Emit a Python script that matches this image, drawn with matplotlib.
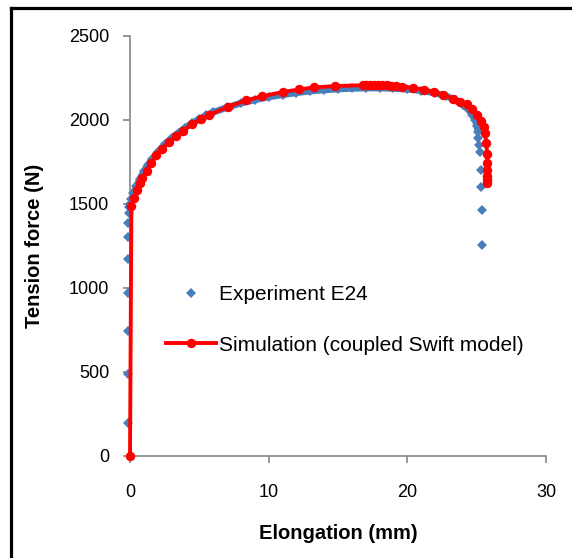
import matplotlib
matplotlib.use("Agg")
import matplotlib.pyplot as plt
from matplotlib.lines import Line2D

plt.rcParams['font.family'] = ['Liberation Sans', 'DejaVu Sans']

# Experiment E24 - elastic part (sparse points)
exp_el_x = [-0.12, -0.13, -0.12, -0.12, -0.12, -0.12, -0.12, -0.10, -0.08]
exp_el_y = [198, 488, 746, 972, 1171, 1302, 1389, 1444, 1484]
# Experiment E24 - plastic part (dense band)
exp_pl_x = [0.0, 0.1, 0.25, 0.45, 0.7, 1.0, 1.3, 1.6, 2.0, 2.5, 3.0, 3.5, 4.0,
            4.5, 5.0, 5.5, 6.0, 7.0, 8.0, 9.0, 10.0, 11.0, 12.0, 13.0, 14.0,
            15.0, 16.0, 17.0, 18.0, 19.0, 20.0, 21.0, 22.0, 22.8, 23.5, 24.0,
            24.4, 24.7, 24.9, 25.0, 25.1]
exp_pl_y = [1500, 1530, 1565, 1605, 1650, 1695, 1735, 1765, 1810, 1855, 1893,
            1925, 1955, 1982, 2006, 2027, 2046, 2075, 2100, 2120, 2137, 2150,
            2162, 2172, 2179, 2184, 2188, 2190, 2190, 2188, 2183, 2175, 2160,
            2143, 2118, 2092, 2063, 2030, 2000, 1965, 1930]
# Experiment E24 - fracture drop (sparse points)
exp_dr_x = [25.12, 25.2, 25.24, 25.28, 25.32, 25.4, 25.42]
exp_dr_y = [1891, 1851, 1811, 1702, 1603, 1464, 1256]

# Simulation (coupled Swift model)
sim_x = [0.0, 0.1, 0.3, 0.5, 0.7, 0.9, 1.2, 1.5, 1.9, 2.3, 2.8, 3.3, 3.8, 4.5,
         5.1, 5.7, 7.1, 8.4, 9.5, 11.0, 12.2, 13.3, 14.8, 16.8, 17.0, 17.3,
         17.6, 17.9, 18.2, 18.5, 18.8, 19.2, 19.6, 20.4, 21.2, 21.9, 22.6, 23.3,
         23.8, 24.3, 24.7, 25.0, 25.3, 25.5, 25.6, 25.7, 25.75, 25.78, 25.78,
         25.77, 25.75, 25.72]
sim_y = [0, 1490, 1535, 1585, 1622, 1655, 1697, 1742, 1790, 1830, 1868, 1905,
         1937, 1975, 2005, 2030, 2080, 2117, 2141, 2166, 2182, 2194, 2202,
         2207, 2208, 2208, 2208, 2208, 2207, 2206, 2205, 2203, 2199, 2191,
         2181, 2167, 2149, 2127, 2110, 2093, 2063, 2030, 1992, 1960, 1920,
         1861, 1800, 1742, 1700, 1665, 1640, 1623]

xticks = [0, 10, 20, 30]
yticks = [0, 500, 1000, 1500, 2000, 2500]

blue = '#4A7EBB'
red = '#FF0000'
gray = '#868686'

fig = plt.figure(figsize=(5.72, 5.58), dpi=100)
ax = fig.add_axes([0.2273, 0.1828, 0.7272, 0.7527])

# experiment band (dense measured points)
ax.plot(exp_pl_x, exp_pl_y, color=blue, lw=4.8, solid_capstyle='round',
        solid_joinstyle='round', zorder=2)
all_x = exp_el_x + exp_pl_x + exp_dr_x
all_y = exp_el_y + exp_pl_y + exp_dr_y
ax.plot(all_x, all_y, linestyle='none', marker='D', markersize=4.6,
        color=blue, markeredgewidth=0, clip_on=False, zorder=3)

ax.plot(sim_x, sim_y, color=red, lw=2.8, marker='o', markersize=6.8,
        markeredgewidth=0, clip_on=False, zorder=4)

ax.set_xlim(0, 30)
ax.set_ylim(0, 2500)
ax.set_xticks(xticks)
ax.set_yticks(yticks)
for s in ['top', 'right']:
    ax.spines[s].set_visible(False)
for s in ['left', 'bottom']:
    ax.spines[s].set_color(gray)
    ax.spines[s].set_linewidth(1.2)
ax.tick_params(direction='out', length=5, width=1.2, color=gray,
               labelsize=13, labelcolor='black')
ax.tick_params(axis='x', pad=15)
ax.tick_params(axis='y', pad=10)
ax.set_xlabel('Elongation (mm)', fontsize=14.5, fontweight='bold', labelpad=17)
ax.set_ylabel('Tension force (N)', fontsize=14.5, fontweight='bold', labelpad=18)

handles = [Line2D([], [], linestyle='none', marker='D', markersize=4.6,
                  color=blue, markeredgewidth=0),
           Line2D([], [], color=red, lw=2.8, marker='o', markersize=6.8,
                  markeredgewidth=0)]
leg = ax.legend(handles, ['Experiment E24', 'Simulation (coupled Swift model)'],
                loc='center left', bbox_to_anchor=(0.0865, 0.3238),
                frameon=False, fontsize=15, handlelength=2.4,
                handletextpad=0.15, labelspacing=1.5, borderpad=0,
                borderaxespad=0)

# chart border (left and top)
fig.add_artist(Line2D([0.0201, 0.0201], [0, 0.9857], color='black', lw=2.3,
                      transform=fig.transFigure))
fig.add_artist(Line2D([0.0201, 1.0], [0.9857, 0.9857], color='black', lw=2.3,
                      transform=fig.transFigure))

fig.savefig('out.png', dpi=100)
